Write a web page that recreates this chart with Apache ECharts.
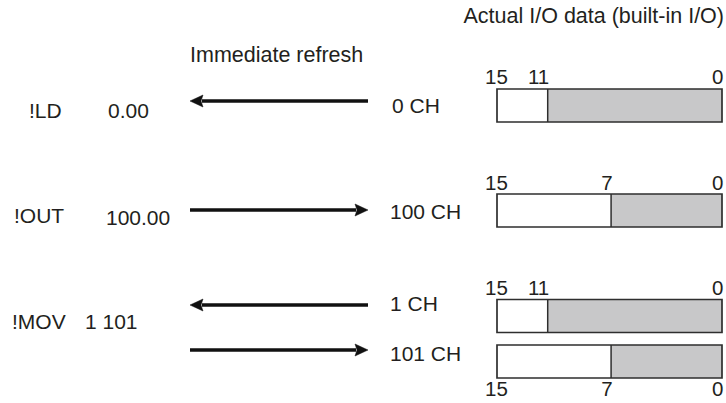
<!DOCTYPE html>
<html>
<head>
<meta charset="utf-8">
<script src="https://cdn.jsdelivr.net/npm/echarts@6/dist/echarts.min.js"></script>
<style>html,body{margin:0;padding:0;background:#fff}#c{width:726px;height:403px}</style>
</head>
<body>
<div id="c"></div>
<script>
// ---- data ----
var instructions = ['!LD', '!OUT', '!MOV'];
var operands = ['0.00', '100.00', '1 101'];
var channels = ['0 CH', '100 CH', '1 CH', '101 CH'];
var directions = ['in', 'out', 'in', 'out'];   // in: I/O -> CPU (arrow points left)
var highBit = 15;
var lowBit = 0;
var splitBits = [11, 7, 11, 7];               // gray area runs from this bit down to bit 0
var titleText = 'Actual I/O data (built-in I/O)';
var refreshText = 'Immediate refresh';

// ---- layout (positions, not data) ----
var FONT = '"Liberation Sans", Arial, sans-serif';
var FS = 21;
var FS_BIT = 20.5;
var FS_TITLE = 21.5;
var TXT = '#231f20';
var rowY = [105.5, 210.5, 316, 361.5];          // register box centers
var boxH = 33;
var labelY = [76, 182, 287, 388];               // bit label centers
var instrPos = [[29, 110.5], [14, 215], [12, 321]];
var operPos = [[108, 110.5], [106, 217], [85, 321]];
var arrowY = [101, 210, 305, 350];
var arrowX = [190, 368];
var chanPos = [[392, 105], [390, 211], [390, 303], [390, 353]];

var boxData = splitBits.map(function (s, i) { return [s, rowY[i], i]; });
var arrowData = directions.map(function (d, i) { return [arrowX[0], arrowY[i], i]; });

var chart = echarts.init(document.getElementById('c'), null, { renderer: 'svg' });

function renderBox(params, api) {
  var i = api.value(2);
  var split = api.value(0);
  var y = api.value(1);
  var pL = api.coord([highBit - 0.8, y]); // box left edge = axis max
  var pR = api.coord([lowBit, y]);
  var pS = api.coord([split, y]);
  var x0 = pL[0], x1 = pR[0], xs = pS[0];
  var top = pL[1] - boxH / 2;
  var ly = api.coord([0, labelY[i]])[1];
  var stroke = '#2e2e2e';
  var ts = { fontFamily: FONT, fontSize: FS_BIT, fill: TXT, verticalAlign: 'middle' };
  return {
    type: 'group',
    children: [
      { type: 'rect', shape: { x: xs, y: top, width: x1 - xs, height: boxH }, style: { fill: '#c8c8c9', stroke: 'none' } },
      { type: 'rect', shape: { x: x0, y: top, width: x1 - x0, height: boxH }, style: { fill: 'none', stroke: stroke, lineWidth: 1.7 } },
      { type: 'line', shape: { x1: xs, y1: top, x2: xs, y2: top + boxH }, style: { stroke: stroke, lineWidth: 1.5 } },
      { type: 'text', x: x0 - 0.5, y: ly, style: Object.assign({ text: String(highBit), align: 'center' }, ts) },
      { type: 'text', x: xs + 1.5, y: ly, style: Object.assign({ text: String(split), align: 'right' }, ts) },
      { type: 'text', x: x1 + 1.5, y: ly, style: Object.assign({ text: String(lowBit), align: 'right' }, ts) }
    ]
  };
}

function renderArrow(params, api) {
  var i = api.value(2);
  var pA = api.coord([arrowX[0], arrowY[i]]);
  var pB = api.coord([arrowX[1], arrowY[i]]);
  var y = pA[1];
  var left = directions[i] === 'in';
  var tip = left ? pA[0] : pB[0];
  var tail = left ? pB[0] : pA[0];
  var hl = 13, hw = 6;
  var dirS = left ? 1 : -1;
  var base = tip + dirS * hl;
  var cp = api.coord(chanPos[i]);
  return {
    type: 'group',
    children: [
      { type: 'line', shape: { x1: tail, y1: y, x2: base - dirS * 1, y2: y }, style: { stroke: '#111', lineWidth: 3.6 } },
      { type: 'polygon', shape: { points: [[tip, y], [base, y - hw], [base - dirS * 2, y], [base, y + hw]] }, style: { fill: '#111', stroke: '#111', lineWidth: 0.5 } },
      { type: 'text', x: cp[0], y: cp[1], style: { text: channels[i], fontFamily: FONT, fontSize: FS, fill: TXT, verticalAlign: 'middle', align: 'left' } }
    ]
  };
}

function renderInstr(params, api) {
  var i = api.value(2);
  var a = api.coord(instrPos[i]);
  var b = api.coord(operPos[i]);
  var ts = { fontFamily: FONT, fontSize: FS, fill: TXT, verticalAlign: 'middle', align: 'left' };
  return {
    type: 'group',
    children: [
      { type: 'text', x: a[0], y: a[1], style: Object.assign({ text: instructions[i] }, ts) },
      { type: 'text', x: b[0], y: b[1], style: Object.assign({ text: operands[i] }, ts) }
    ]
  };
}

var option = {
  backgroundColor: '#fff',
  animation: false,
  title: [
    { text: titleText, right: 2, top: 5, padding: 0, textStyle: { fontFamily: FONT, fontSize: FS_TITLE, fontWeight: 'normal', color: TXT } },
    { text: refreshText, left: 190, top: 44, padding: 0, textStyle: { fontFamily: FONT, fontSize: FS_TITLE, fontWeight: 'normal', color: TXT } }
  ],
  grid: [
    { left: 0, top: 0, width: 726, height: 403, show: false },
    { left: 497, top: 0, width: 225, height: 403, show: false }
  ],
  xAxis: [
    { gridIndex: 0, type: 'value', min: 0, max: 726, show: false },
    { gridIndex: 1, type: 'value', min: lowBit, max: highBit - 0.8, inverse: true, show: false }
  ],
  yAxis: [
    { gridIndex: 0, type: 'value', min: 0, max: 403, inverse: true, show: false },
    { gridIndex: 1, type: 'value', min: 0, max: 403, inverse: true, show: false }
  ],
  series: [
    { type: 'custom', xAxisIndex: 1, yAxisIndex: 1, renderItem: renderBox, data: boxData, silent: true },
    { type: 'custom', xAxisIndex: 0, yAxisIndex: 0, renderItem: renderArrow, data: arrowData, silent: true },
    { type: 'custom', xAxisIndex: 0, yAxisIndex: 0, renderItem: renderInstr, data: instructions.map(function (s, i) { return [0, 0, i]; }), silent: true }
  ]
};
chart.setOption(option);
</script>
</body>
</html>
